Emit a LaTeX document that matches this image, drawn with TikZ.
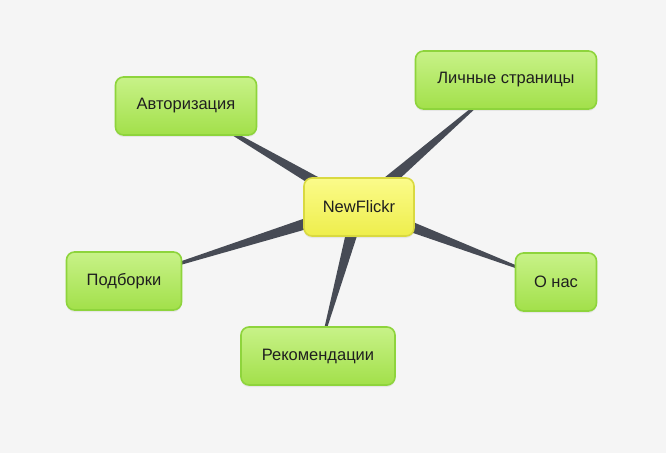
\documentclass[tikz,border=0pt]{standalone}
\usepackage{fontspec}
\setmainfont{Liberation Sans}
\usetikzlibrary{calc,backgrounds,shadows}

\definecolor{leafTop}{HTML}{C8F288}
\definecolor{leafBot}{HTML}{A2E04A}
\definecolor{leafLine}{HTML}{8ED43C}
\definecolor{hubTop}{HTML}{FBFB8A}
\definecolor{hubBot}{HTML}{EEEE4C}
\definecolor{hubLine}{HTML}{D9D940}
\definecolor{spoke}{HTML}{474B55}
\definecolor{paper}{HTML}{F5F5F5}

\tikzset{
  leaf/.style={draw=leafLine,line width=1.6pt,rounded corners=8pt,
    top color=leafTop,bottom color=leafBot,minimum height=58pt,
    font=\fontsize{16.5}{19}\selectfont,text=black!88,
    drop shadow={opacity=0.12,shadow xshift=0pt,shadow yshift=-2pt}},
  hub/.style={leaf,draw=hubLine,top color=hubTop,bottom color=hubBot},
  wedge/.style={fill=spoke}
}

\begin{document}
\begin{tikzpicture}[x=1pt,y=1pt]

\node[hub,minimum width=110pt]  (hub)   at (359,246) {NewFlickr};
\node[leaf,minimum width=141pt] (auth)  at (186,347) {Авторизация};
\node[leaf,minimum width=181pt] (pages) at (506,373) {Личные страницы};
\node[leaf,minimum width=115pt] (sets)  at (124,172) {Подборки};
\node[leaf,minimum width=154pt] (recs)  at (318,97)  {Рекомендации};
\node[leaf,minimum width=81pt]  (about) at (556,171) {О нас};

\begin{pgfonlayer}{background}
\fill[paper] (0,0) rectangle (666,453);
\foreach \n in {auth,pages,sets,recs,about}
  \fill[wedge] ($(hub.center)!7pt!90:(\n.center)$) -- (\n.center)
    -- ($(hub.center)!7pt!-90:(\n.center)$) -- cycle;
\end{pgfonlayer}

\end{tikzpicture}
\end{document}
